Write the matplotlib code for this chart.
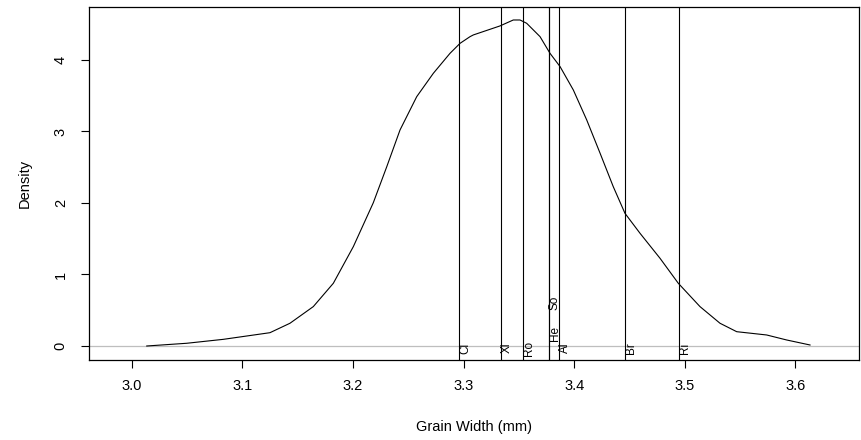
import matplotlib
matplotlib.use("Agg")
import matplotlib.pyplot as plt

plt.rcParams['font.family'] = ['Liberation Sans', 'DejaVu Sans']

# kernel density of grain width
width_mm = [3.0136, 3.0497, 3.0828, 3.1250, 3.1431, 3.1642, 3.1823, 3.2004,
            3.2184, 3.2306, 3.2426, 3.2577, 3.2727, 3.2878, 3.2969, 3.3059,
            3.3089, 3.3330, 3.3450, 3.3511, 3.3571, 3.3692, 3.3782, 3.3873,
            3.3993, 3.4114, 3.4235, 3.4354, 3.4460, 3.4596, 3.4777, 3.4942,
            3.5138, 3.5319, 3.5470, 3.5741, 3.5922, 3.6133]
density = [0.000, 0.038, 0.093, 0.186, 0.318, 0.551, 0.877, 1.390,
           2.002, 2.507, 3.021, 3.487, 3.813, 4.093, 4.233, 4.326,
           4.350, 4.476, 4.559, 4.559, 4.513, 4.326, 4.093, 3.907,
           3.580, 3.161, 2.695, 2.228, 1.855, 1.576, 1.226, 0.877,
           0.551, 0.318, 0.200, 0.154, 0.084, 0.014]

# mean grain width of each line
sites = ['Cl', 'Xi', 'Ro', 'He', 'So', 'Al', 'Br', 'Ri']
site_width = [3.296, 3.334, 3.354, 3.377, 3.377, 3.386, 3.446, 3.495]

# height of each name along its line (He / So lifted so they don't collide)
label_y = [-0.03, -0.03, -0.03, 0.17, 0.60, -0.03, -0.03, -0.03]

fig = plt.figure(figsize=(8.61, 4.40), dpi=100)
ax = fig.add_axes([0.103, 0.1818, 0.8947, 0.803])

ax.axhline(0, color='#bebebe', lw=0.9, zorder=1)
ax.plot(width_mm, density, color='black', lw=0.8, zorder=3)

for name, w, y in zip(sites, site_width, label_y):
    ax.axvline(w, color='black', lw=0.8, zorder=2)
    ax.text(w, y, name, rotation=90, ha='left', va='center',
            fontsize=8.5, color='black', zorder=4)

ax.set_xlim(2.9611, 3.6576)
ax.set_ylim(-0.196, 4.745)
ax.set_xticks([3.0, 3.1, 3.2, 3.3, 3.4, 3.5, 3.6])
ax.set_xticklabels(['3.0', '3.1', '3.2', '3.3', '3.4', '3.5', '3.6'])
ax.set_yticks([0, 1, 2, 3, 4])
ax.tick_params(axis='both', direction='out', length=6, width=0.8,
               labelsize=10.5, colors='black')
ax.tick_params(axis='x', pad=8)
ax.tick_params(axis='y', pad=9)
for lab in ax.get_yticklabels():
    lab.set_rotation(90)
    lab.set_va('center')
for s in ax.spines.values():
    s.set_linewidth(0.9)
    s.set_color('black')

fig.text(0.5504, 1 - 427 / 440, 'Grain Width (mm)', ha='center', va='center',
         fontsize=10.5)
fig.text(25 / 861, 1 - 183 / 440, 'Density', rotation=90, ha='center',
         va='center', fontsize=10.5)

fig.savefig('out.png', dpi=100)
